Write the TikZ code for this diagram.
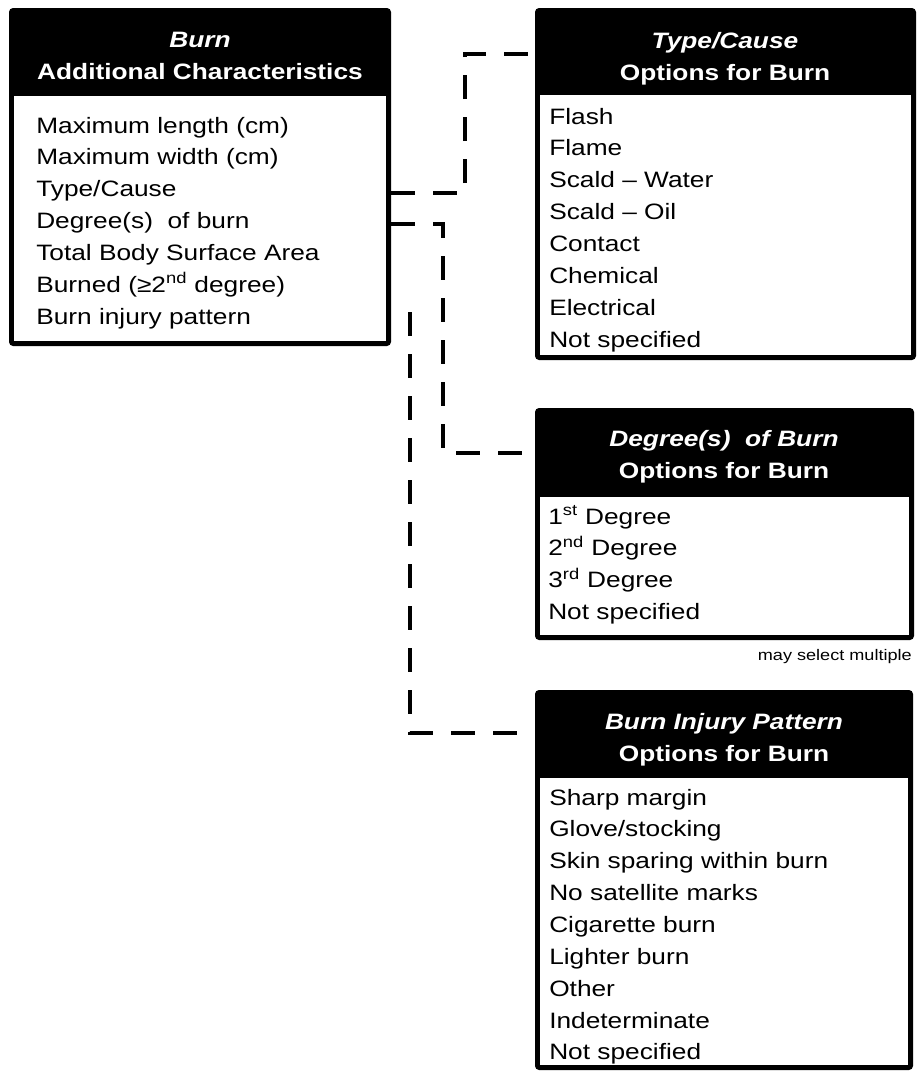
\documentclass[tikz,border=0pt]{standalone}
\usepackage{fontspec}
\setmainfont{Liberation Sans}[FakeStretch=1.18]
\usetikzlibrary{calc}
\begin{document}
\begin{tikzpicture}[x=0.75pt,y=-0.75pt]
\tikzset{
  outerbox/.style={fill=black, rounded corners=3pt, inner sep=0pt, outer sep=0pt, anchor=north west},
  innerbox/.style={fill=white, inner sep=0pt, outer sep=0pt, anchor=north west},
  hdr/.style={text=white, anchor=base, inner sep=0pt, font=\fontsize{16.7}{24}\selectfont\bfseries},
  body/.style={anchor=base west, inner sep=0pt, font=\fontsize{16.7}{23.9}\selectfont},
  note/.style={anchor=base east, inner sep=0pt, font=\fontsize{11.5}{14}\selectfont},
  conn/.style={line width=3.6pt, dash pattern=on 18pt off 13.5pt},
}
\useasboundingbox (0,0) rectangle (917,1072);

% Box 1
\node[outerbox, minimum width=286.5pt, minimum height=253.5pt] (b1) at (9,8) {};
\node[innerbox, minimum width=279pt, minimum height=183.75pt] (b1in) at (14,96) {};
\node[hdr] (h1) at (200,47) {\begin{tabular}[t]{@{}c@{}}\textit{Burn}\\ Additional Characteristics\end{tabular}};
\node[body] (t1) at (36,133) {\begin{tabular}[t]{@{}l@{}}
Maximum length (cm)\\
Maximum width (cm)\\
Type/Cause\\
Degree(s)~ of burn\\
Total Body Surface Area\\
Burned (≥2\textsuperscript{nd} degree)\\
Burn injury pattern\end{tabular}};

% Box 2
\node[outerbox, minimum width=285.75pt, minimum height=264pt] (b2) at (535,8) {};
\node[innerbox, minimum width=278.25pt, minimum height=195pt] (b2in) at (540,95) {};
\node[hdr] (h2) at (725,48) {\begin{tabular}[t]{@{}c@{}}\textit{Type/Cause}\\ Options for Burn\end{tabular}};
\node[body] (t2) at (549,124) {\begin{tabular}[t]{@{}l@{}}
Flash\\
Flame\\
Scald – Water\\
Scald – Oil\\
Contact\\
Chemical\\
Electrical\\
Not specified\end{tabular}};

% Box 3
\node[outerbox, minimum width=284.25pt, minimum height=174pt] (b3) at (535,408) {};
\node[innerbox, minimum width=276.75pt, minimum height=103.5pt] (b3in) at (540,497) {};
\node[hdr] (h3) at (724,446) {\begin{tabular}[t]{@{}c@{}}\textit{Degree(s)~ of Burn}\\ Options for Burn\end{tabular}};
\node[body] (t3) at (548,524) {\begin{tabular}[t]{@{}l@{}}
1\textsuperscript{st} Degree\\
2\textsuperscript{nd} Degree\\
3\textsuperscript{rd} Degree\\
Not specified\end{tabular}};
\node[note] (n3) at (912,660) {may select multiple};

% Box 4
\node[outerbox, minimum width=283.5pt, minimum height=285pt] (b4) at (535,690) {};
\node[innerbox, minimum width=276pt, minimum height=215.25pt] (b4in) at (540,778) {};
\node[hdr] (h4) at (724,729) {\begin{tabular}[t]{@{}c@{}}\textit{Burn Injury Pattern}\\ Options for Burn\end{tabular}};
\node[body] (t4) at (549,805) {\begin{tabular}[t]{@{}l@{}}
Sharp margin\\
Glove/stocking\\
Skin sparing within burn\\
No satellite marks\\
Cigarette burn\\
Lighter burn\\
Other\\
Indeterminate\\
Not specified\end{tabular}};

% Connectors
\coordinate (c3) at (410,312);
\draw[conn] ($(b1.north east)+(0,185)$) -| ($(b2.north west)+(-70,46)$) -- ($(b2.north west)+(0,46)$);
\draw[conn] ($(b1.north east)+(0,216)$) -| ($(b3.north west)+(-92,45)$) -- ($(b3.north west)+(0,45)$);
\draw[conn] (c3) |- ($(b4.north west)+(0,43)$);
\end{tikzpicture}
\end{document}
